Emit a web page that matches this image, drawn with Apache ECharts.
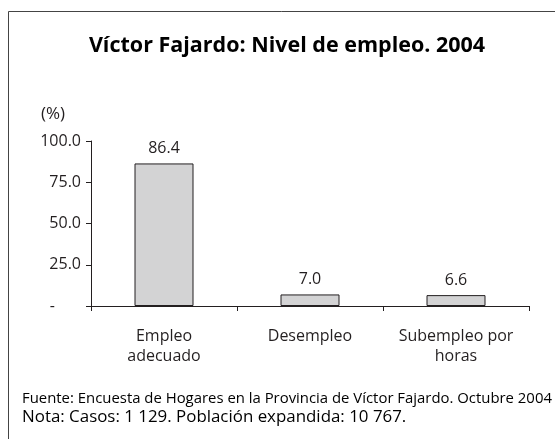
<!DOCTYPE html>
<html>
<head>
<meta charset="utf-8">
<script src="https://cdn.jsdelivr.net/npm/echarts@6/dist/echarts.min.js"></script>
<style>
  html, body { margin: 0; padding: 0; background: #fff; }
  #chart { width: 555px; height: 439px; }
</style>
</head>
<body>
<div id="chart"></div>
<script>
// Employment level categories and their shares (%)
const categories = ['Empleo\nadecuado', 'Desempleo', 'Subempleo por\nhoras'];
const values = [86.4, 7.0, 6.6];
const yTicks = [0, 25, 50, 75, 100];

const titleText = 'Víctor Fajardo: Nivel de empleo. 2004';
const unitText = '(%)';
const sourceText = 'Fuente: Encuesta de Hogares en la Provincia de Víctor Fajardo. Octubre 2004';
const noteText = 'Nota: Casos: 1 129. Población expandida: 10 767.';

const FONT = '"Open Sans", "Noto Sans", sans-serif';
const INK = '#231f20';

const chart = echarts.init(document.getElementById('chart'), null, { renderer: 'canvas' });

chart.setOption({
  backgroundColor: '#ffffff',
  animation: false,
  title: [
    {
      text: titleText, padding: 0,
      left: 287, top: 35, textAlign: 'center',
      textStyle: { fontFamily: FONT, fontWeight: 'bold', fontSize: 21.5, color: '#000' }
    },
    {
      text: unitText, padding: 0,
      left: 41, top: 106,
      textStyle: { fontFamily: FONT, fontWeight: 'normal', fontSize: 17, color: INK }
    },
    {
      text: sourceText, padding: 0,
      left: 22, top: 391,
      textStyle: { fontFamily: FONT, fontWeight: 'normal', fontSize: 14.9, color: '#000' }
    },
    {
      text: noteText, padding: 0,
      left: 22, top: 409,
      textStyle: { fontFamily: FONT, fontWeight: 'normal', fontSize: 16.9, color: '#000' }
    }
  ],
  graphic: [
    // frame around the figure (top and left edges)
    { type: 'line', shape: { x1: 8.5, y1: 11.5, x2: 555, y2: 11.5 }, style: { stroke: '#444', lineWidth: 1 } },
    { type: 'line', shape: { x1: 8.5, y1: 11.5, x2: 8.5, y2: 439 }, style: { stroke: '#444', lineWidth: 1 } }
  ],
  grid: { left: 91, right: 26, top: 141, bottom: 133, containLabel: false },
  xAxis: {
    type: 'category',
    data: categories,
    axisLine: { lineStyle: { color: INK, width: 1 } },
    axisTick: { show: true, length: 5, lineStyle: { color: INK } },
    axisLabel: {
      margin: 20, fontFamily: FONT, fontSize: 16, color: INK, lineHeight: 20, interval: 0
    },
    splitLine: { show: false }
  },
  yAxis: {
    type: 'value',
    min: yTicks[0], max: yTicks[yTicks.length - 1], interval: 25,
    axisLine: { show: true, lineStyle: { color: INK, width: 1 } },
    axisTick: { show: true, length: 5, lineStyle: { color: INK } },
    axisLabel: {
      margin: 10, fontFamily: FONT, fontSize: 16, color: INK,
      // zero is shown as a dash, set in from the right like the other labels' decimals
      formatter: v => (v === 0 ? '{dash|-}' : v.toFixed(1)),
      rich: {
        dash: { fontFamily: FONT, fontSize: 16, color: INK, padding: [0, 26, 0, 0] }
      }
    },
    splitLine: { show: false }
  },
  series: [{
    type: 'bar',
    data: values,
    barWidth: 59,
    itemStyle: { color: '#d3d3d4', borderColor: INK, borderWidth: 1 },
    label: {
      show: true, position: 'top', distance: 7,
      fontFamily: FONT, fontSize: 16, color: INK,
      formatter: p => p.value.toFixed(1)
    }
  }]
});
</script>
</body>
</html>
